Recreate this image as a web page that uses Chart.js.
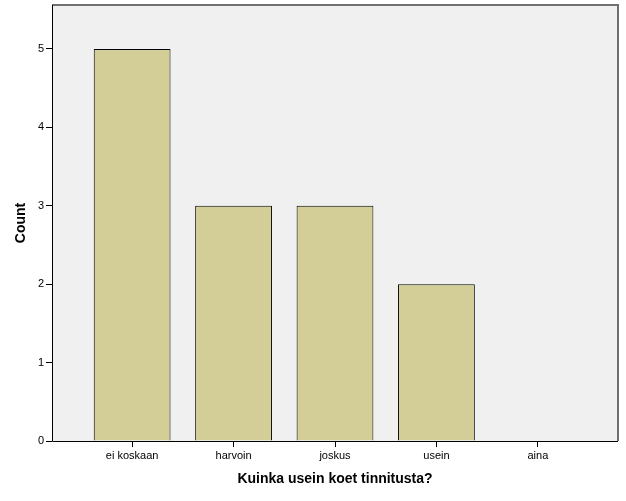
<!DOCTYPE html>
<html><head><meta charset="utf-8">
<script src="https://cdn.jsdelivr.net/npm/chart.js@4"></script>
<style>html,body{margin:0;padding:0;background:#fff}#w{width:626px;height:501px}</style>
</head><body><div id="w"><canvas id="c" width="626" height="501"></canvas></div>
<script>
const categories = ["ei koskaan", "harvoin", "joskus", "usein", "aina"];
const counts = [5, 3, 3, 2, 0];
const yTicks = [0, 1, 2, 3, 4, 5];

const frame = {
  id: 'frame',
  beforeDraw(chart) {
    const {ctx, chartArea: a} = chart;
    ctx.save();
    ctx.fillStyle = '#f0f0f0';
    ctx.fillRect(a.left, a.top, a.right - a.left, a.bottom - a.top);
    ctx.restore();
  },
  afterDraw(chart) {
    const {ctx, chartArea: a} = chart;
    ctx.save();
    ctx.strokeStyle = '#707070';
    ctx.lineWidth = 2;
    ctx.beginPath();
    ctx.moveTo(a.left, a.top);
    ctx.lineTo(a.right, a.top);
    ctx.lineTo(a.right, a.bottom);
    ctx.stroke();
    ctx.strokeStyle = '#000';
    ctx.lineWidth = 1;
    ctx.beginPath();
    ctx.moveTo(a.left + 0.5, a.top);
    ctx.lineTo(a.left + 0.5, a.bottom + 0.5);
    ctx.lineTo(a.right, a.bottom + 0.5);
    ctx.stroke();
    ctx.restore();
  }
};

new Chart(document.getElementById('c'), {
  type: 'bar',
  data: {
    datasets: [{
      data: counts.map((v, i) => ({x: i, y: v})),
      backgroundColor: '#d3ce98',
      borderColor: '#000',
      borderWidth: 1,
      categoryPercentage: 1,
      barPercentage: 0.757
    }]
  },
  options: {
    responsive: false,
    animation: false,
    layout: {padding: {top: 5, right: 8, left: 0, bottom: 0}},
    plugins: {legend: {display: false}, tooltip: {enabled: false}},
    scales: {
      x: {
        type: 'linear',
        offset: false,
        min: -0.79,
        max: 4.79,
        afterBuildTicks(s) { s.ticks = categories.map((c, i) => ({value: i})); },
        afterFit(s) { s.height = 60; s.paddingLeft = 0; s.paddingRight = 0; },
        border: {display: false},
        grid: {offset: false, drawOnChartArea: false, drawTicks: true, tickLength: 6, color: '#000'},
        ticks: {
          color: '#000',
          font: {family: 'Liberation Sans, Arial', size: 11},
          padding: 2,
          maxRotation: 0,
          autoSkip: false,
          callback: (v) => categories[v]
        },
        title: {
          display: true,
          text: 'Kuinka usein koet tinnitusta?',
          color: '#000',
          font: {family: 'Liberation Sans, Arial', size: 14, weight: 'bold'},
          padding: {top: 0, bottom: 13}
        }
      },
      y: {
        min: 0,
        max: 5.56,
        afterBuildTicks(s) { s.ticks = yTicks.map(v => ({value: v})); },
        afterFit(s) { s.width = 52; s.paddingTop = 0; s.paddingBottom = 0; },
        border: {display: false},
        grid: {drawOnChartArea: false, drawTicks: true, tickLength: 6, color: '#000'},
        ticks: {
          color: '#000',
          font: {family: 'Liberation Sans, Arial', size: 11},
          padding: 2
        },
        title: {
          display: true,
          text: 'Count',
          color: '#000',
          font: {family: 'Liberation Sans, Arial', size: 14, weight: 'bold'},
          padding: {top: 13, bottom: 0}
        }
      }
    }
  },
  plugins: [frame]
});
</script></body></html>
